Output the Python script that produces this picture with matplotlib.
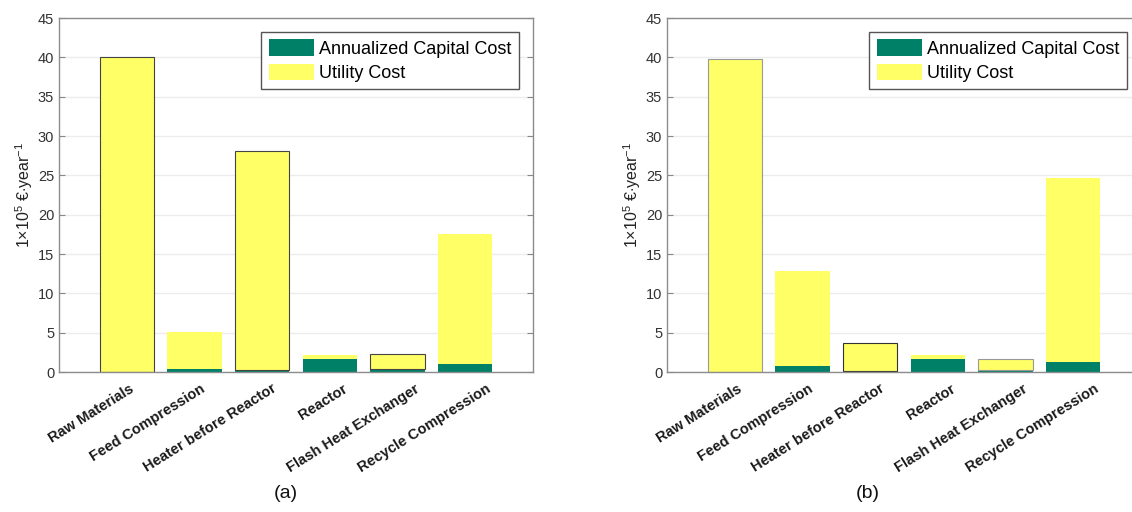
import numpy as np
import matplotlib as mpl
mpl.use('Agg')
import matplotlib.pyplot as plt
from matplotlib.transforms import ScaledTranslation

units = ["Raw Materials", "Feed Compression", "Heater before Reactor",
         "Reactor", "Flash Heat Exchanger", "Recycle Compression"]

# case (a)
capital_a = [0.0, 0.42, 0.25, 1.70, 0.34, 0.97]
total_a = [40.1, 5.05, 28.1, 2.16, 2.33, 17.6]
# case (b)
capital_b = [0.0, 0.80, 0.15, 1.70, 0.30, 1.23]
total_b = [39.8, 12.8, 3.64, 2.16, 1.65, 24.6]

yticks = np.arange(0, 50, 5)

mpl.rcParams['font.family'] = ['Liberation Sans', 'DejaVu Sans']
mpl.rcParams['mathtext.fontset'] = 'custom'
mpl.rcParams['mathtext.rm'] = 'Liberation Sans'
mpl.rcParams['mathtext.it'] = 'Liberation Sans:italic'

green = '#008066'
yellow = '#ffff66'

W, H = 1132, 512
fig = plt.figure(figsize=(W / 100, H / 100), dpi=100)

def panel(left, capital, total, edges, letter, letter_x):
    ax = fig.add_axes([left / W, (H - 372) / H, 474 / W, 354 / H])
    x = np.arange(1, len(units) + 1)
    utility = np.array(total) - np.array(capital)
    ax.bar(x, capital, 0.8, color=green, edgecolor='none', label='Annualized Capital Cost', zorder=2)
    ax.bar(x, utility, 0.8, bottom=capital, color=yellow, edgecolor=edges,
           linewidth=0.8, label='Utility Cost', zorder=2)
    ax.set_xlim(0, 7)
    ax.set_ylim(0, 45)
    ax.set_yticks(yticks)
    ax.yaxis.grid(True, color='#ececec', linewidth=1.0, zorder=0)
    ax.set_axisbelow(True)
    ax.tick_params(axis='y', direction='in', length=4, labelsize=10.5,
                   labelcolor='#333333', color='#888888', right=True)
    ax.tick_params(axis='x', length=0, pad=7)
    ax.set_xticks(x)
    ax.set_xticklabels(units, rotation=32, ha='right', rotation_mode='anchor',
                       fontsize=10.5, fontweight='bold', color='#1a1a1a')
    # the rotated names drift slightly to the right along the axis
    for k, lab in enumerate(ax.get_xticklabels()):
        shift = (2 + 3.6 * k) / 100
        lab.set_transform(lab.get_transform() + ScaledTranslation(shift, 0, fig.dpi_scale_trans))
    for s in ax.spines.values():
        s.set_color('#8c8c8c')
        s.set_linewidth(1.0)
    ax.set_ylabel(r'1$\times$10$^5$ €$\cdot$year$^{-1}$', fontsize=11.5, color='#222222', labelpad=2)
    leg = ax.legend(loc='upper right', bbox_to_anchor=(0.97, 0.96), fontsize=13,
                    fancybox=False, framealpha=1, edgecolor='#555555',
                    handlelength=2.5, handleheight=1.0, handletextpad=0.3,
                    labelspacing=0.33, borderpad=0.4, borderaxespad=0)
    leg.get_frame().set_linewidth(1.0)
    for h in leg.legend_handles:
        h.set_edgecolor('none')
    fig.text(letter_x / W, 1 - 493 / H, letter, fontsize=14, ha='center', va='center', color='#111111')
    return ax

panel(59, capital_a, total_a,
      ['#444444', 'none', '#444444', 'none', '#444444', 'none'], '(a)', 286)
panel(667, capital_b, total_b,
      ['#999999', 'none', '#333333', 'none', '#999999', 'none'], '(b)', 868)

fig.savefig('out.png', dpi=100)
